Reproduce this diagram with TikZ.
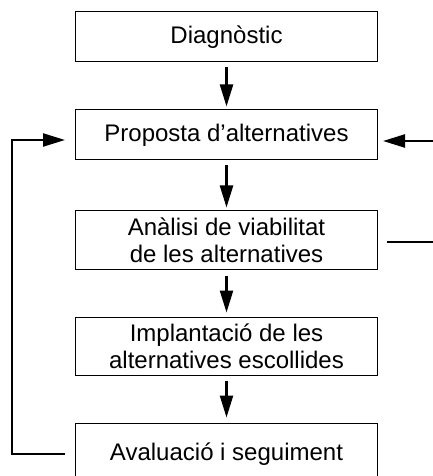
\documentclass[tikz,border=0pt]{standalone}
\usepackage{fontspec}
\setmainfont{Liberation Sans}
\usetikzlibrary{arrows.meta}
\begin{document}
\begin{tikzpicture}[x=1bp,y=-1bp,
  box/.style={draw,line width=1bp,minimum width=301bp,inner sep=0pt,align=center,
    font=\fontsize{24bp}{27bp}\selectfont},
  tip/.style={-{Triangle[length=22bp,width=13bp]}},
  flow/.style={line width=2.3bp,tip},
  loop/.style={line width=2.3bp}]
\useasboundingbox (0,0) rectangle (433,476);
\node[box,minimum height=50bp] (b1) at (226.5,37) {Diagnòstic};
\node[box,minimum height=50bp] (b2) at (226.5,135) {Proposta d’alternatives};
\node[box,minimum height=58bp] (b3) at (226.5,240) {Anàlisi de viabilitat\\de les alternatives};
\node[box,minimum height=58bp] (b4) at (226.5,346) {Implantació de les\\alternatives escollides};
\node[box,minimum height=62bp] (b5) at (226.5,454) {Avaluació i seguiment};
\draw[flow] ([yshift=-5bp]b1.south) -- ([yshift=3bp]b2.north);
\draw[flow] ([yshift=-5bp]b2.south) -- ([yshift=3bp]b3.north);
\draw[flow] ([yshift=-6bp]b3.south) -- ([yshift=4bp]b4.north);
\draw[flow] ([yshift=-5bp]b4.south) -- ([yshift=5bp]b5.north);
\coordinate (l5) at (65,454);
\coordinate (l2) at (65,140);
\coordinate (rin) at (433,141);
\coordinate (r2) at (383,141);
\coordinate (rout) at (433,242);
\coordinate (r3) at (387,242);
\draw[loop,tip] (l5) -- (12,454) -- (12,140) -- (l2);
\draw[loop,tip] (rin) -- (r2);
\draw[loop] (r3) -- (rout);
\end{tikzpicture}
\end{document}
